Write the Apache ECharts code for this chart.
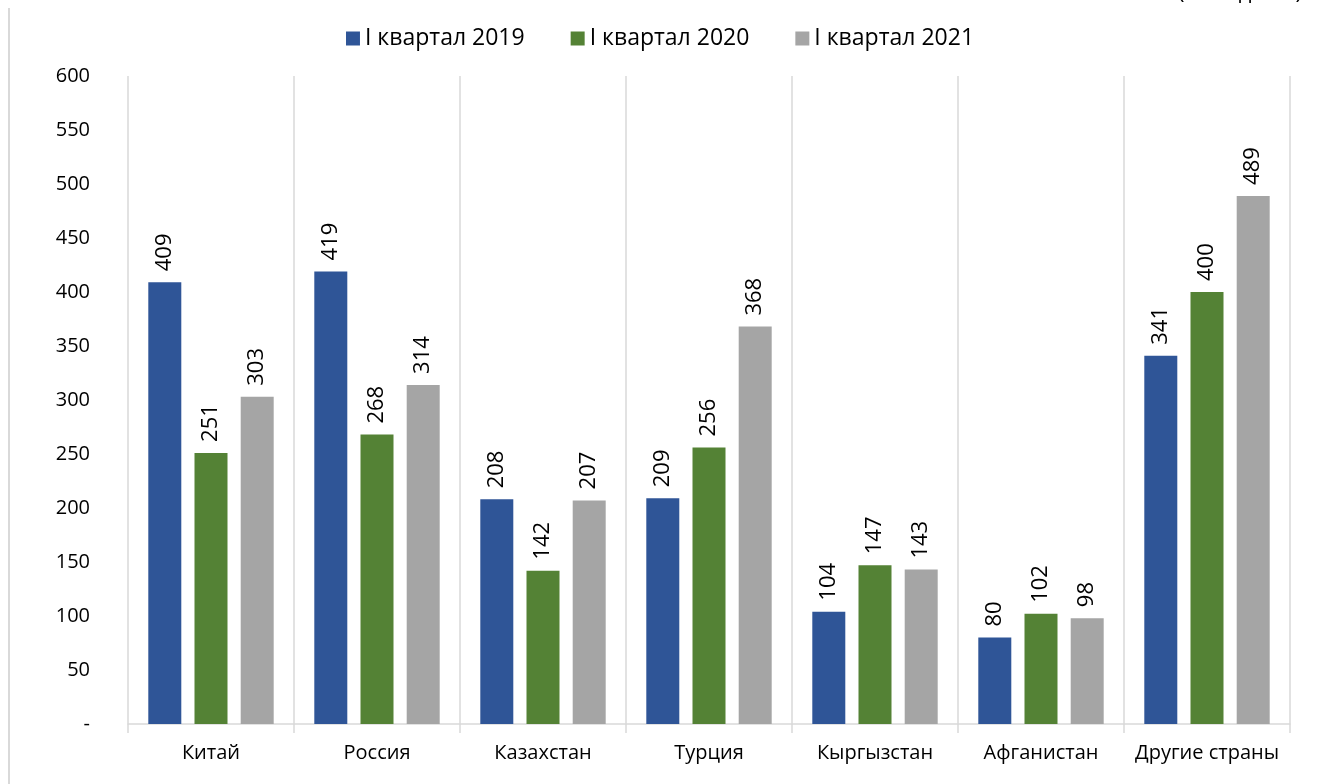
<!DOCTYPE html>
<html>
<head>
<meta charset="utf-8">
<script src="https://cdn.jsdelivr.net/npm/echarts@6/dist/echarts.min.js"></script>
<style>
html,body{margin:0;padding:0;background:#fff;}
#chart{width:1320px;height:784px;}
</style>
</head>
<body>
<div id="chart"></div>
<script>
// страны и значения по кварталам
var countries = ['Китай', 'Россия', 'Казахстан', 'Турция', 'Кыргызстан', 'Афганистан', 'Другие страны'];
var q2019 = [409, 419, 208, 209, 104, 80, 341];
var q2020 = [251, 268, 142, 256, 147, 102, 400];
var q2021 = [303, 314, 207, 368, 143, 98, 489];
var seriesNames = ['I квартал 2019', 'I квартал 2020', 'I квартал 2021'];
var colors = ['#2F5597', '#548235', '#A5A5A5'];

var font = 'Open Sans, Noto Sans, sans-serif';
var myecharts = echarts.init(document.getElementById('chart'));

function makeSeries(name, data, color) {
  return {
    name: name,
    type: 'bar',
    data: data,
    barWidth: 33,
    barGap: '40%',
    itemStyle: {color: color},
    label: {
      show: true,
      position: 'top',
      rotate: 90,
      align: 'left',
      verticalAlign: 'middle',
      distance: 11,
      fontFamily: font,
      fontSize: 22,
      color: '#000'
    }
  };
}

var option = {
  animation: false,
  color: colors,
  legend: {
    top: 22,
    left: 'center',
    itemWidth: 14,
    itemHeight: 14,
    itemGap: 46,
    icon: 'rect',
    textStyle: {fontFamily: font, fontSize: 23, color: '#000'},
    data: seriesNames
  },
  grid: {left: 128, right: 30, top: 76, bottom: 60},
  xAxis: {
    type: 'category',
    data: countries,
    axisLine: {lineStyle: {color: '#d9d9d9', width: 1.5}},
    axisTick: {show: true, interval: 0, length: 9, lineStyle: {color: '#d9d9d9', width: 1.5}},
    splitLine: {show: true, interval: 0, lineStyle: {color: '#d9d9d9', width: 1.5}},
    axisLabel: {interval: 0, fontFamily: font, fontSize: 20, color: '#000', margin: 19}
  },
  yAxis: {
    type: 'value',
    min: 0,
    max: 600,
    interval: 50,
    axisLine: {show: false},
    axisTick: {show: false},
    splitLine: {show: false},
    axisLabel: {
      fontFamily: font, fontSize: 20, color: '#000', margin: 38,
      formatter: function (v) { return v === 0 ? '-' : v; }
    }
  },
  graphic: [
    {type: 'rect', left: 8, top: 8, shape: {width: 2, height: 790}, style: {fill: '#d9d9d9'}},
    {type: 'text', right: 18, top: -18, style: {text: '(млн. долл.)', font: '22px ' + font, fill: '#000'}}
  ],
  series: [
    makeSeries(seriesNames[0], q2019, colors[0]),
    makeSeries(seriesNames[1], q2020, colors[1]),
    makeSeries(seriesNames[2], q2021, colors[2])
  ]
};
myecharts.setOption(option);
</script>
</body>
</html>
